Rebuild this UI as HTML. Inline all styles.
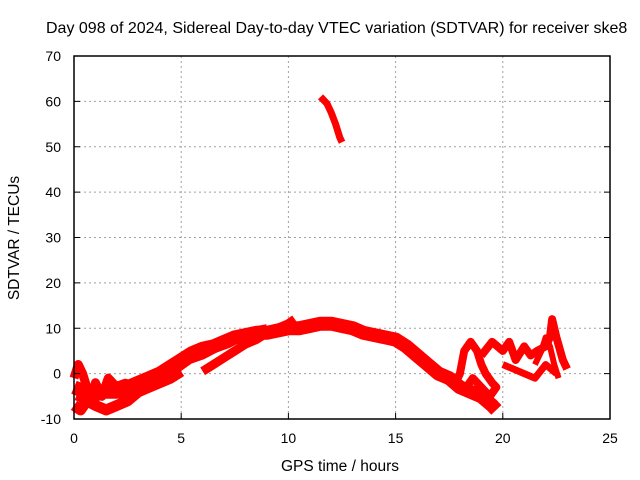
<!DOCTYPE html>
<html><head><meta charset="utf-8">
<style>
html,body{margin:0;padding:0;background:#fff;overflow:hidden;}
svg{display:block;font-family:"Liberation Sans",sans-serif;}
</style></head>
<body>
<svg id="chart" width="640" height="480">
<text x="46" y="33" font-size="16">Day 098 of 2024, Sidereal Day-to-day VTEC variation (SDTVAR) for receiver ske8</text>
<text x="340" y="471" font-size="15.5" text-anchor="middle">GPS time / hours</text>
<text x="19" y="238" font-size="15.5" text-anchor="middle" transform="rotate(-90 19 238)">SDTVAR / TECUs</text>
<g id="grid"></g>
<g id="series"></g>
<rect x="74" y="56" width="536" height="363" fill="none" stroke="#000" stroke-width="1.5"/>
<g id="ticks"></g>
</svg>
<script>
const xTicks=[0,5,10,15,20,25];
const yTicks=[-10,0,10,20,30,40,50,60,70];
const mainH=[0,0.5,1,1.5,2,2.5,3,3.5,4,4.5,5,5.5,6,6.5,7,7.5,8,8.5,9,9.5,10,10.5,11,11.5,12,12.5,13,13.5,14,14.5,15,15.5,16,16.5,17,17.5,18,18.5,19,19.5,19.7];
const mainV=[-3,-4,-4,-4,-4,-3,-2,-1,0,1.5,3,4.5,5.5,6,7,8,8.5,9,9,9.5,10,10,10.5,11,11,10.5,10,9,8.5,8,7.5,6,4,2,0,-1,-3,-4,-5,-7,-8];
const band2H=[6,6.5,7,7.5,8,8.5,9,9.5,10,10.3];
const band2V=[0.5,2,3.5,5,6.5,7.5,9,10,11,12];
const band3H=[0,0.3,0.6,1,1.5,2,2.5,3,3.5,4,4.5,5];
const band3V=[-7,-8,-6,-7,-8,-7,-6,-4,-3,-2,-1,0.5];
const band4H=[0,0.2,0.4,0.6,0.8,1,1.3,1.6,2,2.4];
const band4V=[-1,2,0,-3,-6,-2,-5,-1,-3,-6];
const band5H=[0.1,0.6,1.2,1.8,2.4,3,3.6,4.2,4.8,5.4,6,6.6,7.2,7.8,8.4,9];
const band5V=[-5,-6,-5,-3,-2,-3,-2,-1,1,3,4,5.5,6.5,8,9.5,10];
const loopH=[17.8,18,18.2,18.5,18.8,19,19.2,19.5,19.7,19.4,19,18.6,18.3];
const loopV=[-2,0,5,7,5,2,0,-2,-3,-5,-3,-1,-3];
const tailH=[19,19.5,20,20.3,20.6,21,21.3,21.6,22,22.2,22.3,22.5,22.8,23];
const tailV=[4,7,5,7,3,6,4,5,6,8,12,8,3,1];
const tail2H=[20,20.5,21,21.5,22,22.5];
const tail2V=[2,1,0,-1,2,0];
const tail3H=[21.5,21.8,22,22.2,22.4,22.6];
const tail3V=[2,5,8,6,2,-1];
const topH=[11.5,11.8,12,12.2,12.4,12.5];
const topV=[61,59.5,57.5,55,52,51];
const NS='http://www.w3.org/2000/svg';
const X0=74,X1=610,Y0=419,Y1=56;
function xs(h){return X0+(h-0)/(25-0)*(X1-X0);}
function ys(v){return Y0-(v+10)/80*(Y0-Y1);}
const grid=document.getElementById('grid'),ticks=document.getElementById('ticks'),ser=document.getElementById('series');
function mk(tag,attrs,parent){const e=document.createElementNS(NS,tag);for(const k in attrs)e.setAttribute(k,attrs[k]);parent.appendChild(e);return e;}
xTicks.forEach(t=>{const x=xs(t);
 if(t>0&&t<25){const g=mk('line',{x1:x,x2:x,y1:Y1,y2:Y0,stroke:'#a0a0a0','stroke-dasharray':'2,3'},grid);
 
 }
 const tl=mk('line',{x1:x,x2:x,y1:Y0,y2:Y0-6,stroke:'#000'},ticks);
 
 
 const tx=mk('text',{x:x,y:443,'font-size':14,'text-anchor':'middle'},ticks);tx.textContent=t;
 
 });
yTicks.forEach(t=>{const y=ys(t);
 if(t>-10&&t<70){const g=mk('line',{x1:X0,x2:X1,y1:y,y2:y,stroke:'#a0a0a0','stroke-dasharray':'2,3'},grid);
 
 }
 const tl=mk('line',{x1:X0,x2:X0+6,y1:y,y2:y,stroke:'#000'},ticks);
 
 
 const tl2=mk('line',{x1:X1,x2:X1-6,y1:y,y2:y,stroke:'#000'},ticks);
 
 
 const tx=mk('text',{x:61,y:y+5,'font-size':14,'text-anchor':'end'},ticks);tx.textContent=t;
 
 });
function draw(H,V,w,name){
 const p=mk('polyline',{points:H.map((h,i)=>xs(h)+','+ys(V[i])).join(' '),fill:'none',stroke:'#ff0000','stroke-width':w,'stroke-linejoin':'round','stroke-linecap':'butt'},ser);
 
 }
draw(mainH,mainV,14,'sdtvar-main-band');
draw(band2H,band2V,9,'sdtvar-band-2');
draw(band3H,band3V,11,'sdtvar-band-3');
draw(band4H,band4V,9,'sdtvar-band-4');
draw(band5H,band5V,8,'sdtvar-band-5');
draw(loopH,loopV,8,'sdtvar-loop');
draw(tailH,tailV,8,'sdtvar-tail');
draw(tail2H,tail2V,7,'sdtvar-tail-2');
draw(tail3H,tail3V,6,'sdtvar-tail-3');
draw(topH,topV,7,'sdtvar-high-segment');
</script>
</body></html>
